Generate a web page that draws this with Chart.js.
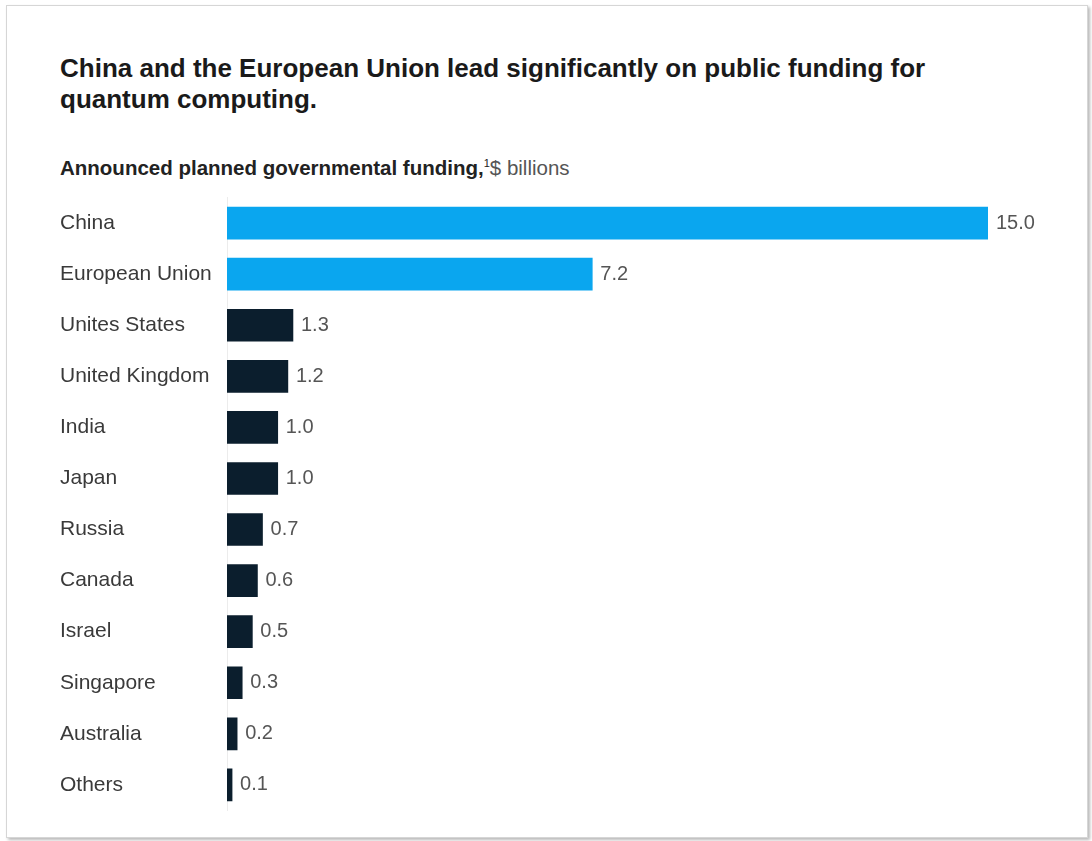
<!DOCTYPE html>
<html>
<head>
<meta charset="utf-8">
<script src="https://cdn.jsdelivr.net/npm/chart.js@4.4.1/dist/chart.umd.min.js"></script>
<style>
  body { margin: 0; background: #fff; font-family: "Liberation Sans", Arial, sans-serif; }
  .card {
    position: absolute; left: 6px; top: 5px; width: 1080px; height: 831px;
    border: 1px solid #d6d6d6; box-shadow: 2px 2px 3px rgba(0,0,0,0.28); background: #fff;
  }
  .title {
    position: absolute; left: 60px; top: 53px; width: 930px;
    font-size: 26px; font-weight: bold; line-height: 31px; color: #1a1a1a;
  }
  .subtitle {
    position: absolute; left: 60px; top: 156px; font-size: 20.5px; color: #222;
  }
  .subtitle b { font-weight: bold; }
  .subtitle sup { font-size: 11px; }
  .subtitle span { color: #555; }
  .wrap { position: absolute; left: 60px; top: 182px; width: 1000px; height: 644px; }
</style>
</head>
<body>
<div class="card"></div>
<div class="title">China and the European Union lead significantly on public funding for quantum computing.</div>
<div class="subtitle"><b>Announced planned governmental funding,</b><sup>1</sup><span>$ billions</span></div>
<div class="wrap"><canvas id="bar-chart"></canvas></div>
<script>
const countries = ["China", "European Union", "Unites States", "United Kingdom", "India", "Japan",
  "Russia", "Canada", "Israel", "Singapore", "Australia", "Others"];
const funding = [15.0, 7.2, 1.3, 1.2, 1.0, 1.0, 0.7, 0.6, 0.5, 0.3, 0.2, 0.1];
const barColors = ["#0aa6ef", "#0aa6ef", "#0b1e2d", "#0b1e2d", "#0b1e2d", "#0b1e2d",
  "#0b1e2d", "#0b1e2d", "#0b1e2d", "#0b1e2d", "#0b1e2d", "#0b1e2d"];

// draws the number right of each bar
const valueLabels = {
  id: "valueLabels",
  afterDatasetsDraw(chart) {
    const ctx = chart.ctx;
    const meta = chart.getDatasetMeta(0);
    ctx.save();
    ctx.font = '20px "Liberation Sans", Arial, sans-serif';
    ctx.fillStyle = "#555";
    ctx.textBaseline = "middle";
    meta.data.forEach((bar, i) => {
      ctx.fillText(funding[i].toFixed(1), bar.x + 8, bar.y);
    });
    ctx.restore();
  }
};

new Chart(document.getElementById("bar-chart"), {
  type: "bar",
  data: {
    labels: countries,
    datasets: [{
      data: funding,
      backgroundColor: barColors,
      barThickness: 32,
    }],
  },
  options: {
    indexAxis: "y",
    responsive: true,
    maintainAspectRatio: false,
    animation: false,
    layout: { padding: { right: 72, top: 0, bottom: 0, left: 0 } },
    plugins: {
      legend: { display: false },
      tooltip: { enabled: false },
    },
    scales: {
      x: { display: false, min: 0, max: 15 },
      y: {
        afterFit(scale) { scale.width = 167; },
        grid: { display: false },
        border: { display: true, color: "#ececec" },
        ticks: {
          crossAlign: "far",
          color: "#3a3a3a",
          font: { family: '"Liberation Sans", Arial, sans-serif', size: 21 },
        },
      },
    },
  },
  plugins: [valueLabels],
});
</script>
</body>
</html>
